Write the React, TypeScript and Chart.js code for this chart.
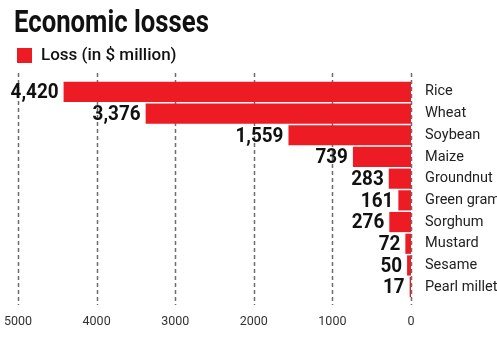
import React, { useEffect, useRef } from "react";
import { Chart, registerables } from "chart.js";

Chart.register(...registerables);

const titleText = "Economic losses";
const seriesLabel = "Loss (in $ million)";
const categories = [
  "Rice",
  "Wheat",
  "Soybean",
  "Maize",
  "Groundnut",
  "Green gram",
  "Sorghum",
  "Mustard",
  "Sesame",
  "Pearl millet",
];
const losses = [4420, 3376, 1559, 739, 283, 161, 276, 72, 50, 17];
const xMin = 0;
const xMax = 5000;
const xStep = 1000;

const FONT = 'Roboto, "Liberation Sans", sans-serif';
const RED = "#ed1c24";

const headerPlugin = {
  id: "header",
  afterDraw(chart: any) {
    const { ctx } = chart;
    const ds = chart.data.datasets[0];
    ctx.save();
    ctx.font = `bold 31px ${FONT}`;
    ctx.fillStyle = "#111";
    ctx.textAlign = "left";
    ctx.textBaseline = "alphabetic";
    ctx.save();
    ctx.translate(14, 32);
    ctx.scale(0.83, 1);
    ctx.fillText(titleText, 0, 0);
    ctx.restore();
    ctx.fillStyle = ds.backgroundColor;
    ctx.fillRect(17, 48, 15, 15);
    ctx.fillStyle = "#111";
    ctx.font = `500 17px ${FONT}`;
    ctx.textBaseline = "middle";
    ctx.fillText(ds.label, 41, 56);
    ctx.restore();
  },
};

const gridPlugin = {
  id: "dashedGrid",
  beforeDatasetsDraw(chart: any) {
    const { ctx, chartArea, scales } = chart;
    const x = scales.x;
    ctx.save();
    ctx.setLineDash([4, 3]);
    ctx.strokeStyle = "#6e6e6e";
    ctx.lineWidth = 1.5;
    x.ticks.forEach((t: any) => {
      const px = Math.round(x.getPixelForValue(t.value)) + 0.5;
      ctx.beginPath();
      ctx.moveTo(px, chartArea.top - 8);
      ctx.lineTo(px, chartArea.bottom + 7);
      ctx.stroke();
    });
    ctx.restore();
  },
};

const valueLabelPlugin = {
  id: "valueLabels",
  afterDatasetsDraw(chart: any) {
    const { ctx } = chart;
    const meta = chart.getDatasetMeta(0);
    ctx.save();
    ctx.font = `bold 21px ${FONT}`;
    ctx.fillStyle = "#111";
    ctx.textAlign = "right";
    ctx.textBaseline = "middle";
    meta.data.forEach((bar: any, i: number) => {
      const v = chart.data.datasets[0].data[i] as number;
      ctx.save();
      ctx.translate(bar.x - 5, bar.y + 1);
      ctx.scale(0.9, 1);
      ctx.fillText(v.toLocaleString("en-US"), 0, 0);
      ctx.restore();
    });
    ctx.restore();
  },
};

export default function App() {
  const ref = useRef<HTMLCanvasElement | null>(null);

  useEffect(() => {
    if (!ref.current) return;
    const chart = new Chart(ref.current, {
      type: "bar",
      data: {
        labels: categories,
        datasets: [
          {
            label: seriesLabel,
            data: losses,
            backgroundColor: RED,
            borderWidth: 0,
            barPercentage: 0.93,
            categoryPercentage: 1.0,
          },
        ],
      },
      options: {
        indexAxis: "y",
        responsive: false,
        animation: false,
        devicePixelRatio: 1,
        layout: { padding: { left: 13, right: 0, top: 0, bottom: 0 } },
        plugins: {
          tooltip: { enabled: false },
          title: { display: false },
          legend: { display: false },
        },
        scales: {
          x: {
            type: "linear",
            reverse: true,
            min: xMin,
            max: xMax,
            ticks: {
              stepSize: xStep,
              color: "#333",
              font: { family: FONT, size: 12.5 },
              padding: 16,
              callback: (v: any) => String(v),
            },
            grid: { display: false, drawTicks: false },
            border: { display: false },
            afterFit: (s: any) => {
              s.paddingLeft = 18;
            },
          },
          y: {
            type: "category",
            position: "right",
            ticks: {
              color: "#222",
              font: { family: FONT, size: 14.5 },
              padding: 14,
              autoSkip: false,
            },
            grid: { display: false, drawTicks: false },
            border: { display: false },
            afterFit: (s: any) => {
              s.width = 86;
              s.paddingTop = 81;
              s.paddingBottom = 0;
            },
          },
        },
      },
      plugins: [gridPlugin, valueLabelPlugin, headerPlugin],
    });
    return () => chart.destroy();
  }, []);

  return (
    <div
      style={{
        position: "fixed",
        left: 0,
        top: 0,
        width: 497,
        height: 345,
        background: "#fff",
      }}
    >
      <canvas ref={ref} width={497} height={345} style={{ display: "block" }} />
    </div>
  );
}
